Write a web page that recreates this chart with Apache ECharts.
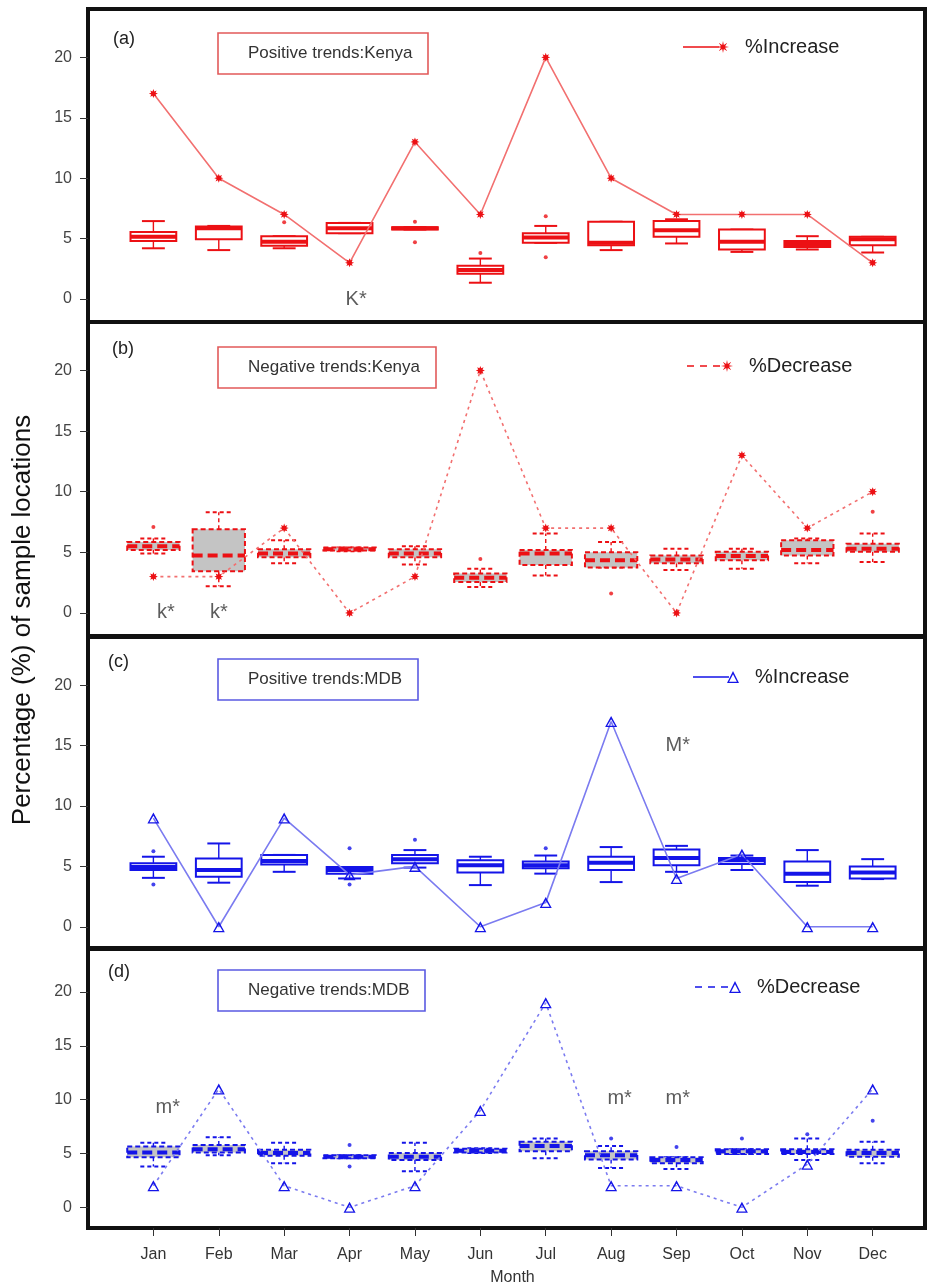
<!DOCTYPE html>
<html>
<head>
<meta charset="utf-8">
<script src="https://cdn.jsdelivr.net/npm/echarts@6/dist/echarts.min.js"></script>
<style>
html,body{margin:0;padding:0;background:#fff;}
#chart{width:927px;height:1287px;}
</style>
</head>
<body>
<div id="chart"></div>
<script>
// ---------------- DATA ----------------
const months = ['Jan','Feb','Mar','Apr','May','Jun','Jul','Aug','Sep','Oct','Nov','Dec'];
const yTicks = [0, 5, 10, 15, 20];

// (a) Positive trends: Kenya  -- box stats [min, Q1, median, Q3, max]
const kenyaPosBoxes = [
  [4.2, 4.8, 5.15, 5.55, 6.45],
  [4.05, 4.95, 5.85, 6.0, 6.05],
  [4.2, 4.4, 4.75, 5.2, 5.2],
  [5.45, 5.45, 5.85, 6.3, 6.3],
  [5.75, 5.75, 5.85, 5.95, 5.95],
  [1.35, 2.1, 2.4, 2.75, 3.35],
  [4.65, 4.65, 5.1, 5.45, 6.05],
  [4.05, 4.45, 4.65, 6.4, 6.4],
  [4.6, 5.15, 5.7, 6.45, 6.6],
  [3.9, 4.1, 4.75, 5.75, 5.75],
  [4.1, 4.3, 4.55, 4.8, 5.2],
  [3.85, 4.45, 4.95, 5.15, 5.15]
];
const kenyaPosOutliers = [[2, 6.35], [4, 6.4], [4, 4.7], [5, 3.8], [6, 6.85], [6, 3.45]];
const kenyaPosIncrease = [17, 10, 7, 3, 13, 7, 20, 10, 7, 7, 7, 3];

// (b) Negative trends: Kenya
const kenyaNegBoxes = [
  [4.9, 5.2, 5.5, 5.85, 6.15],
  [2.2, 3.45, 4.75, 6.9, 8.3],
  [4.1, 4.6, 4.9, 5.25, 6.0],
  [5.1, 5.15, 5.25, 5.4, 5.4],
  [4.0, 4.6, 4.9, 5.25, 5.5],
  [2.15, 2.55, 2.9, 3.25, 3.65],
  [3.1, 3.95, 4.9, 5.2, 6.55],
  [3.75, 3.75, 4.35, 5.0, 5.85],
  [3.55, 4.1, 4.4, 4.75, 5.3],
  [3.65, 4.35, 4.7, 5.05, 5.3],
  [4.1, 4.75, 5.2, 6.0, 6.15],
  [4.2, 5.05, 5.3, 5.7, 6.55]
];
const kenyaNegOutliers = [[0, 7.1], [5, 4.45], [7, 1.6], [11, 8.35]];
const kenyaNegDecrease = [3, 3, 7, 0, 3, 20, 7, 7, 0, 13, 7, 10];

// (c) Positive trends: MDB
const mdbPosBoxes = [
  [4.05, 4.7, 4.95, 5.25, 5.8],
  [3.65, 4.15, 4.7, 5.65, 6.9],
  [4.55, 5.15, 5.45, 5.95, 5.95],
  [4.0, 4.4, 4.7, 4.95, 4.95],
  [4.9, 5.25, 5.6, 5.95, 6.35],
  [3.45, 4.5, 5.1, 5.5, 5.8],
  [4.4, 4.85, 5.1, 5.4, 5.9],
  [3.7, 4.7, 5.3, 5.8, 6.6],
  [4.55, 5.1, 5.7, 6.4, 6.7],
  [4.7, 5.2, 5.5, 5.7, 5.9],
  [3.4, 3.7, 4.4, 5.4, 6.35],
  [3.95, 4.0, 4.5, 5.0, 5.6]
];
const mdbPosOutliers = [[0, 6.25], [0, 3.5], [3, 6.5], [3, 3.5], [4, 7.2], [6, 6.5]];
const mdbPosIncrease = [9, 0, 9, 4.3, 5, 0, 2, 17, 4, 6, 0, 0];

// (d) Negative trends: MDB
const mdbNegBoxes = [
  [3.8, 4.65, 5.1, 5.65, 6.0],
  [4.85, 5.1, 5.4, 5.8, 6.5],
  [4.1, 4.8, 5.05, 5.35, 6.0],
  [4.55, 4.55, 4.7, 4.85, 4.85],
  [3.35, 4.4, 4.7, 5.05, 6.0],
  [5.05, 5.1, 5.25, 5.45, 5.5],
  [4.55, 5.2, 5.7, 6.1, 6.4],
  [3.65, 4.45, 4.85, 5.2, 5.7],
  [3.55, 4.1, 4.4, 4.65, 4.65],
  [4.95, 4.95, 5.2, 5.4, 5.4],
  [4.4, 4.95, 5.15, 5.4, 6.4],
  [4.1, 4.7, 5.05, 5.35, 6.1]
];
const mdbNegOutliers = [[3, 5.8], [3, 3.8], [7, 6.4], [8, 5.6], [9, 6.4], [10, 6.8], [11, 8.05]];
const mdbNegDecrease = [2, 11, 2, 0, 2, 9, 19, 2, 2, 0, 4, 11];

// significance annotations [month index, value, text]
const notesA = [[3.1, 0, 'K*']];
const notesB = [[0.19, 0, 'k*'], [1, 0, 'k*']];
const notesC = [[8.02, 15, 'M*']];
const notesD = [[0.22, 9.3, 'm*'], [7.13, 10.1, 'm*'], [8.02, 10.1, 'm*']];

const panelLetters = ['(a)', '(b)', '(c)', '(d)'];
const panelTitles = ['Positive trends:Kenya', 'Negative trends:Kenya', 'Positive trends:MDB', 'Negative trends:MDB'];
const legendTexts = ['%Increase', '%Decrease', '%Increase', '%Decrease'];
const yTitle = 'Percentage (%) of sample locations';
const xTitle = 'Month';

// ---------------- STYLE / LAYOUT ----------------
const RED = '#ec1014', RED_LINE = '#f27070', RED_BOX = '#e25a5a';
const BLUE = '#1414e8', BLUE_LINE = '#7b7bf0', BLUE_BOX = '#5a5ae2';
const GRAY = '#c4c4c4';
const FONT = 'Liberation Sans, Arial, sans-serif';

function starPath(cx, cy, ro, ri, n) {
  let s = '';
  for (let i = 0; i < 2 * n; i++) {
    const r = i % 2 === 0 ? ro : ri;
    const a = -Math.PI / 2 + i * Math.PI / n;
    s += (i === 0 ? 'M' : 'L') + (cx + r * Math.cos(a)).toFixed(2) + ',' + (cy + r * Math.sin(a)).toFixed(2);
  }
  return s + 'Z';
}
const STAR_SYMBOL = 'path://' + starPath(0, 0, 5, 2.6, 8);
const TRI_SYMBOL = 'path://M0,0L6,11L-6,11ZM0,3.2L-3.9,9.7L3.9,9.7Z';
const iconLineSolid = 'M0,5.3H36V6.7H0Z';
const iconLineDash = 'M0,5.3H7V6.7H0ZM13,5.3H20V6.7H13ZM26,5.3H33V6.7H26Z';
const iconStar = starPath(40, 6, 6, 2.2, 8);
const iconTri = 'M40,0L46,12L34,12ZM40,3.3L36.1,10.7L43.9,10.7Z';

const panels = [
  {top: 9, height: 313, yMin: -1.9, boxes: kenyaPosBoxes, out: kenyaPosOutliers, line: kenyaPosIncrease, notes: notesA,
   color: RED, lineColor: RED_LINE, boxBorder: RED_BOX, fill: '#ffffff', dashed: false, symbol: STAR_SYMBOL, symSize: 9,
   icon: 'path://' + iconLineSolid + iconStar, letter: [113, 30], titlePos: [218, 33], legendPos: [683, 37], name: 'incK'},
  {top: 322, height: 314, yMin: -1.9, boxes: kenyaNegBoxes, out: kenyaNegOutliers, line: kenyaNegDecrease, notes: notesB,
   color: RED, lineColor: RED_LINE, boxBorder: RED_BOX, fill: GRAY, dashed: true, symbol: STAR_SYMBOL, symSize: 9,
   icon: 'path://' + iconLineDash + iconStar, letter: [112, 340], titlePos: [218, 347], legendPos: [687, 356], name: 'decK'},
  {top: 637, height: 311, yMin: -1.76, boxes: mdbPosBoxes, out: mdbPosOutliers, line: mdbPosIncrease, notes: notesC,
   color: BLUE, lineColor: BLUE_LINE, boxBorder: BLUE_BOX, fill: '#ffffff', dashed: false, symbol: TRI_SYMBOL, symSize: [12, 11],
   icon: 'path://' + iconLineSolid + iconTri, letter: [108, 653], titlePos: [218, 659], legendPos: [693, 667], name: 'incM'},
  {top: 949, height: 281, yMin: -1.92, boxes: mdbNegBoxes, out: mdbNegOutliers, line: mdbNegDecrease, notes: notesD,
   color: BLUE, lineColor: BLUE_LINE, boxBorder: BLUE_BOX, fill: GRAY, dashed: true, symbol: TRI_SYMBOL, symSize: [12, 11],
   icon: 'path://' + iconLineDash + iconTri, letter: [108, 963], titlePos: [218, 970], legendPos: [695, 977], name: 'decM'}
];

function boxRenderer(stroke, fill, dashed, widthUnits) {
  return function (params, api) {
    const x = api.value(0);
    const pLo = api.coord([x, api.value(1)]);
    const pQ1 = api.coord([x, api.value(2)]);
    const pMd = api.coord([x, api.value(3)]);
    const pQ3 = api.coord([x, api.value(4)]);
    const pHi = api.coord([x, api.value(5)]);
    const w = api.size([widthUnits, 0])[0];
    const cx = pMd[0];
    const dash = dashed ? [4, 3] : null;
    const thin = {stroke: stroke, lineWidth: 1.4, lineDash: dash, fill: null};
    const cap = {stroke: stroke, lineWidth: 2, lineDash: dash, fill: null};
    return {
      type: 'group',
      children: [
        {type: 'line', shape: {x1: cx, y1: pQ3[1], x2: cx, y2: pHi[1]}, style: thin},
        {type: 'line', shape: {x1: cx, y1: pQ1[1], x2: cx, y2: pLo[1]}, style: thin},
        {type: 'line', shape: {x1: cx - w / 4, y1: pHi[1], x2: cx + w / 4, y2: pHi[1]}, style: cap},
        {type: 'line', shape: {x1: cx - w / 4, y1: pLo[1], x2: cx + w / 4, y2: pLo[1]}, style: cap},
        {type: 'rect', shape: {x: cx - w / 2, y: pQ3[1], width: w, height: Math.max(pQ1[1] - pQ3[1], 1)},
         style: {stroke: stroke, fill: fill, lineWidth: 2, lineDash: dashed ? [5, 3] : null}},
        {type: 'line', shape: {x1: cx - w / 2, y1: pMd[1], x2: cx + w / 2, y2: pMd[1]},
         style: {stroke: stroke, lineWidth: 4, lineDash: dashed ? [10, 5] : null}}
      ]
    };
  };
}

const grids = [], xAxes = [], yAxes = [], series = [], titles = [], legends = [];

panels.forEach(function (p, k) {
  grids.push({left: 88, right: 2, top: p.top, height: p.height, show: true,
              borderColor: '#111', borderWidth: 4, backgroundColor: 'transparent'});
  const isLast = k === panels.length - 1;
  xAxes.push({
    gridIndex: k, type: 'value', min: -1, max: 11.8, position: 'bottom',
    axisLine: {show: false, onZero: false}, splitLine: {show: false},
    axisTick: {show: isLast, length: 8, customValues: months.map(function (m, i) { return i; }),
               lineStyle: {color: '#333', width: 1}},
    axisLabel: {show: isLast, customValues: months.map(function (m, i) { return i; }),
                formatter: function (v) { return months[Math.round(v)]; },
                fontSize: 16, color: '#333', margin: 19, fontFamily: FONT},
    name: isLast ? xTitle : '', nameLocation: 'middle', nameGap: 42,
    nameTextStyle: {fontSize: 16, color: '#333', fontFamily: FONT, padding: [0, 0, 0, 12]}
  });
  yAxes.push({
    gridIndex: k, type: 'value', min: p.yMin, max: 24, position: 'left',
    axisLine: {show: false, onZero: false}, splitLine: {show: false},
    axisTick: {show: true, length: 8, customValues: yTicks, lineStyle: {color: '#333', width: 1}},
    axisLabel: {customValues: yTicks, fontSize: 16, color: '#444', margin: 16, fontFamily: FONT}
  });

  series.push({
    type: 'custom', xAxisIndex: k, yAxisIndex: k, z: 2,
    renderItem: boxRenderer(p.color, p.fill, p.dashed, p.dashed ? 0.8 : 0.7),
    encode: {x: 0, y: [1, 2, 3, 4, 5]},
    data: p.boxes.map(function (b, i) { return [i].concat(b); }),
    silent: true
  });
  series.push({
    type: 'scatter', xAxisIndex: k, yAxisIndex: k, z: 3, symbol: 'circle', symbolSize: 4,
    itemStyle: {color: p.color}, data: p.out, silent: true
  });
  series.push({
    type: 'line', name: p.name, xAxisIndex: k, yAxisIndex: k, z: 4,
    data: p.line.map(function (v, i) { return [i, v]; }),
    symbol: p.symbol, symbolSize: p.symSize, showAllSymbol: true,
    itemStyle: {color: p.color},
    lineStyle: {color: p.lineColor, width: 1.6, type: p.dashed ? [3, 4] : 'solid'},
    silent: true
  });
  series.push({
    type: 'scatter', xAxisIndex: k, yAxisIndex: k, z: 5, symbolSize: 1,
    itemStyle: {color: 'rgba(0,0,0,0)'},
    data: p.notes,
    label: {show: true, position: 'inside', formatter: function (q) { return q.value[2]; },
            fontSize: 20, color: '#333', fontFamily: FONT},
    silent: true
  });

  titles.push({text: panelLetters[k], left: p.letter[0], top: p.letter[1], padding: 0,
               textStyle: {fontSize: 18, fontWeight: 'normal', color: '#222', fontFamily: FONT}});
  titles.push({text: panelTitles[k], left: p.titlePos[0], top: p.titlePos[1],
               padding: [12, 16, 12, 30], borderColor: p.boxBorder, borderWidth: 1.6,
               textStyle: {fontSize: 17, fontWeight: 'normal', color: '#333', fontFamily: FONT}});
  legends.push({
    left: p.legendPos[0], top: p.legendPos[1], padding: 0, selectedMode: false,
    itemWidth: 46, itemHeight: 12,
    data: [{name: p.name, icon: p.icon, itemStyle: {color: p.color, borderWidth: 0}}],
    formatter: (function (t) { return function () { return t; }; })(legendTexts[k]),
    textStyle: {fontSize: 20, color: '#222', fontFamily: FONT, padding: [0, 0, 0, 11]}
  });
});

const chart = echarts.init(document.getElementById('chart'), null, {renderer: 'canvas'});
chart.setOption({
  animation: false,
  backgroundColor: '#ffffff',
  title: titles,
  legend: legends,
  grid: grids,
  xAxis: xAxes,
  yAxis: yAxes,
  series: series,
  graphic: [{
    type: 'text', x: 23, y: 620, rotation: Math.PI / 2,
    style: {text: yTitle, font: '26px ' + FONT, fill: '#111', align: 'center', verticalAlign: 'middle'}
  }]
});
</script>
</body>
</html>
